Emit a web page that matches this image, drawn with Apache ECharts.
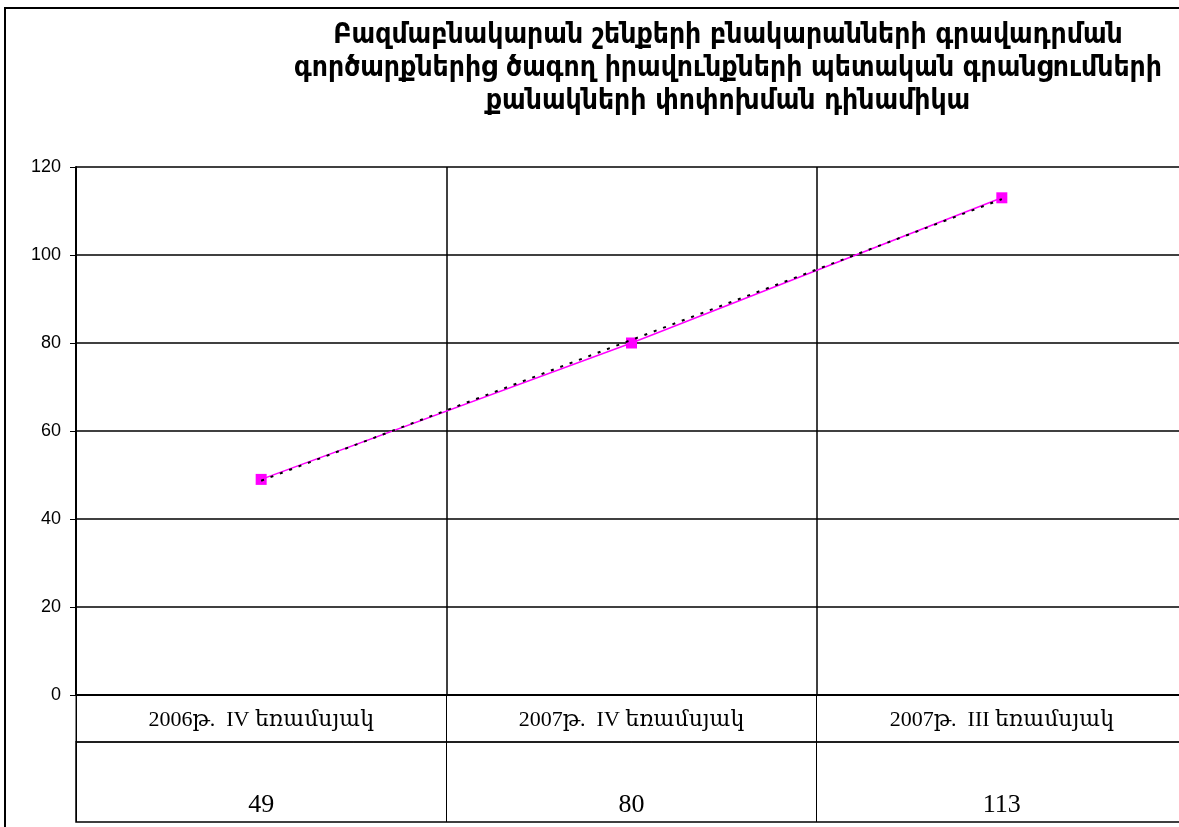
<!DOCTYPE html>
<html>
<head>
<meta charset="utf-8">
<script src="https://cdn.jsdelivr.net/npm/echarts@6/dist/echarts.min.js"></script>
<style>
  html, body { margin: 0; padding: 0; background: #fff; overflow: hidden; }
  /* the original plot runs past the right edge of the picture */
  #main { width: 1200px; height: 827px; }
</style>
</head>
<body>
<div id="main"></div>
<script>
const categories = ['2006թ.  IV եռամսյակ', '2007թ.  IV եռամսյակ', '2007թ.  III եռամսյակ']
const values = [49, 80, 113]
const trend = [48.7, 80.7, 112.7]   // dotted linear trend
const yTicks = { min: 0, max: 120, step: 20 }

const titleText = 'Բազմաբնակարան շենքերի բնակարանների գրավադրման\n' +
    'գործարքներից ծագող իրավունքների պետական գրանցումների\n' +
    'քանակների փոփոխման դինամիկա'

const serif = '"Liberation Serif", "DejaVu Serif", serif'
const plotLeft = 76
const plotWidth = 1111

const chart = echarts.init(document.getElementById('main'))
chart.setOption({
    animation: false,
    backgroundColor: '#fff',
    title: {
        text: titleText,
        left: 723,
        top: 14,
        textAlign: 'center',
        textStyle: {
            fontFamily: '"DejaVu Sans Condensed", "DejaVu Sans", sans-serif',
            fontWeight: 'bold',
            fontSize: 28,
            lineHeight: 33,
            color: '#000'
        }
    },
    graphic: [{
        type: 'rect',
        shape: { x: 5, y: 8, width: 1300, height: 900 },
        style: { fill: 'none', stroke: '#000', lineWidth: 2 },
        silent: true
    }],
    grid: [
        { left: plotLeft, width: plotWidth, top: 167, height: 528 },
        { left: plotLeft, width: plotWidth, top: 695, height: 47, show: true, borderColor: '#000', borderWidth: 1 },
        { left: plotLeft, width: plotWidth, top: 742, height: 80, show: true, borderColor: '#000', borderWidth: 1.5 }
    ],
    xAxis: [
        {
            gridIndex: 0,
            type: 'category',
            data: categories,
            axisLine: { lineStyle: { color: '#000', width: 2 } },
            axisTick: { show: false },
            axisLabel: { show: false },
            splitLine: { show: true, lineStyle: { color: '#000', width: 1.5 } }
        },
        {
            gridIndex: 1,
            type: 'category',
            data: categories,
            axisLine: { show: false },
            axisTick: { show: false },
            axisLabel: { inside: true, margin: 11, color: '#000', fontFamily: serif, fontSize: 22 },
            splitLine: { show: true, lineStyle: { color: '#000', width: 1 } }
        },
        {
            gridIndex: 2,
            type: 'category',
            data: values.map(String),
            axisLine: { show: false },
            axisTick: { show: false },
            axisLabel: { inside: true, margin: 4, color: '#000', fontFamily: serif, fontSize: 26 },
            splitLine: { show: true, lineStyle: { color: '#000', width: 1 } }
        }
    ],
    yAxis: [
        {
            gridIndex: 0,
            type: 'value',
            min: yTicks.min,
            max: yTicks.max,
            interval: yTicks.step,
            axisLine: { show: true, lineStyle: { color: '#000', width: 2 } },
            axisTick: { show: true, length: 6, lineStyle: { color: '#000' } },
            axisLabel: { margin: 15, color: '#000', fontFamily: '"Liberation Sans", Arial, sans-serif', fontSize: 18 },
            splitLine: { show: true, lineStyle: { color: '#000', width: 1.5 } }
        },
        { gridIndex: 1, type: 'value', show: false },
        { gridIndex: 2, type: 'value', show: false }
    ],
    series: [
        {
            name: 'trend',
            type: 'line',
            xAxisIndex: 0,
            yAxisIndex: 0,
            data: trend,
            symbol: 'none',
            lineStyle: { color: '#000', width: 2, type: [3, 7] },
            z: 3
        },
        {
            name: 'count',
            type: 'line',
            xAxisIndex: 0,
            yAxisIndex: 0,
            data: values,
            symbol: 'rect',
            symbolSize: 11,
            itemStyle: { color: '#ff00ff' },
            lineStyle: { color: '#ff00ff', width: 1.5 },
            z: 2
        }
    ]
})
</script>
</body>
</html>
